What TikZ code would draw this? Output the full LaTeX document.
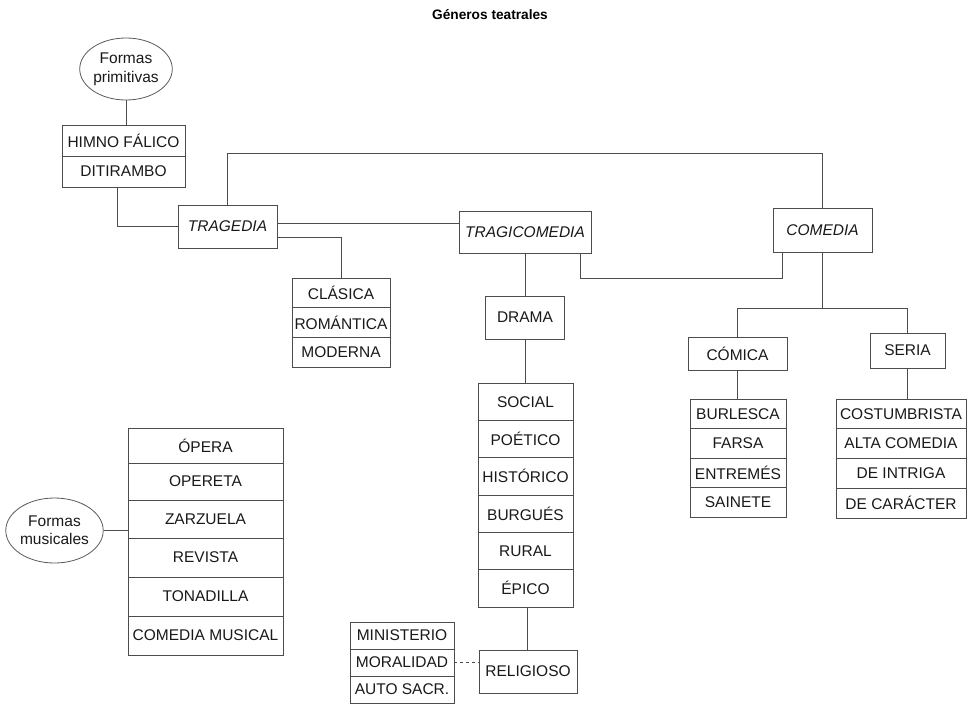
\documentclass[tikz,border=0pt]{standalone}
\usepackage{fontspec}
\setmainfont{Liberation Sans}
\usetikzlibrary{shapes.geometric}

\newcommand{\cellfont}{\fontsize{15.5}{19}\selectfont}

\tikzset{
  link/.style={draw=black!70, line width=0.8pt},
  cell/.style={draw=black!70, line width=0.8pt, rectangle, inner sep=0pt,
               font=\cellfont, text=black!90},
  genre/.style={cell, font=\cellfont\itshape},
  cloud/.style={draw=black!65, line width=0.8pt, ellipse, inner sep=0pt,
                align=center, font=\cellfont, text=black!90},
}

\begin{document}
\begin{tikzpicture}[x=1pt, y=-1pt]
\useasboundingbox (0,0) rectangle (979,712);

% title
\node[font=\fontsize{13.7}{16}\selectfont\bfseries] (title) at (490,15) {Géneros teatrales};

% origins
\node[cloud, minimum width=82pt, minimum height=62pt] (primitivas) at (126,69)
  {Formas\\primitivas};
\node[cell, minimum width=123pt, minimum height=31pt] (himno) at (123.5,140.5) {HIMNO FÁLICO};
\node[cell, minimum width=123pt, minimum height=31pt] (diti)  at (123.5,171.5) {DITIRAMBO};

% the three main genres
\node[genre, minimum width=99pt,  minimum height=43pt] (tragedia)     at (227.5,226.5) {TRAGEDIA};
\node[genre, minimum width=132pt, minimum height=42pt] (tragicomedia) at (525,232)     {TRAGICOMEDIA};
\node[genre, minimum width=99pt,  minimum height=44pt] (comedia)      at (822.5,230)   {COMEDIA};

% tragedy
\node[cell, minimum width=98pt, minimum height=29.7pt] (clasica)   at (341,292.8) {CLÁSICA};
\node[cell, minimum width=98pt, minimum height=29.7pt] (romantica) at (341,322.5) {ROMÁNTICA};
\node[cell, minimum width=98pt, minimum height=29.7pt] (moderna)   at (341,352.2) {MODERNA};

% drama
\node[cell, minimum width=79pt, minimum height=43pt] (drama) at (525,317.5) {DRAMA};
\node[cell, minimum width=95pt, minimum height=37.33pt] (social)    at (525.5,401.7) {SOCIAL};
\node[cell, minimum width=95pt, minimum height=37.33pt] (poetico)   at (525.5,439.0) {POÉTICO};
\node[cell, minimum width=95pt, minimum height=37.33pt] (historico) at (525.5,476.3) {HISTÓRICO};
\node[cell, minimum width=95pt, minimum height=37.33pt] (burgues)   at (525.5,513.7) {BURGUÉS};
\node[cell, minimum width=95pt, minimum height=37.33pt] (rural)     at (525.5,551.0) {RURAL};
\node[cell, minimum width=95pt, minimum height=37.33pt] (epico)     at (525.5,588.3) {ÉPICO};
\node[cell, minimum width=98pt, minimum height=43pt] (religioso) at (528,671.5) {RELIGIOSO};
\node[cell, minimum width=104pt, minimum height=27pt] (ministerio) at (402,635.5) {MINISTERIO};
\node[cell, minimum width=104pt, minimum height=27pt] (moralidad)  at (402,662.5) {MORALIDAD};
\node[cell, minimum width=104pt, minimum height=27pt] (auto)       at (402,689.5) {AUTO SACR.};

% comedy
\node[cell, minimum width=99pt, minimum height=33pt] (comica) at (737.5,353.5) {CÓMICA};
\node[cell, minimum width=75pt, minimum height=35pt] (seria)  at (907.5,350.5) {SERIA};
\node[cell, minimum width=96pt, minimum height=29.5pt] (burlesca) at (738,413.75) {BURLESCA};
\node[cell, minimum width=96pt, minimum height=29.5pt] (farsa)    at (738,443.25) {FARSA};
\node[cell, minimum width=96pt, minimum height=29.5pt] (entremes) at (738,472.75) {ENTREMÉS};
\node[cell, minimum width=96pt, minimum height=29.5pt] (sainete)  at (738,502.25) {SAINETE};
\node[cell, minimum width=130pt, minimum height=29.75pt] (costumbrista) at (901,413.9) {COSTUMBRISTA};
\node[cell, minimum width=130pt, minimum height=29.75pt] (alta)     at (901,443.6) {ALTA COMEDIA};
\node[cell, minimum width=130pt, minimum height=29.75pt] (intriga)  at (901,473.4) {DE INTRIGA};
\node[cell, minimum width=130pt, minimum height=29.75pt] (caracter) at (901,503.1) {DE CARÁCTER};

% musical forms
\node[cloud, minimum width=85pt, minimum height=65pt, font=\fontsize{15.5}{18}\selectfont] (musicales) at (54.5,530.5)
  {Formas\\musicales};
\node[cell, minimum width=155pt, minimum height=35pt] (opera)     at (205.5,445.5) {ÓPERA};
\node[cell, minimum width=155pt, minimum height=37pt] (opereta)   at (205.5,481.5) {OPERETA};
\node[cell, minimum width=155pt, minimum height=38pt] (zarzuela)  at (205.5,519)   {ZARZUELA};
\node[cell, minimum width=155pt, minimum height=39pt] (revista)   at (205.5,557.5) {REVISTA};
\node[cell, minimum width=155pt, minimum height=39pt] (tonadilla) at (205.5,596.5) {TONADILLA};
\node[cell, minimum width=155pt, minimum height=39pt] (cmusical)  at (205.5,635.5) {COMEDIA MUSICAL};

% connectors
\coordinate (topbar) at (0,153);
\coordinate (combar) at (0,308);

\draw[link] (primitivas.south) -- (primitivas.south |- himno.north);
\draw[link] ([xshift=-6.5pt]diti.south) |- (tragedia.west);
\draw[link] (tragedia.north) |- (comedia.north |- topbar) -- (comedia.north);
\draw[link] ([yshift=3.5pt]tragedia.east) -- ([yshift=3.5pt]tragedia.east -| tragicomedia.west);
\draw[link] ([yshift=-10.5pt]tragedia.east) -| (clasica.north);
\draw[link] (tragicomedia.south) -- (drama.north);
\draw[link] ([xshift=-11pt]tragicomedia.south east) -- ++(0,25) -| ([xshift=10pt]comedia.south west);
\draw[link] (comedia.south) -- (comedia.south |- combar);
\draw[link] (comica.north) |- (seria.north |- combar) -- (seria.north);
\draw[link] (comica.south) -- (comica.south |- burlesca.north);
\draw[link] (seria.south) -- (seria.south |- costumbrista.north);
\draw[link] (drama.south) -- (drama.south |- social.north);
\draw[link] ([xshift=1.5pt]epico.south) -- ([xshift=1.5pt]epico.south |- religioso.north);
\draw[link, dashed] (moralidad.east) -- (moralidad.east -| religioso.west);
\draw[link] (musicales.east) -- (musicales.east -| opera.west);
\end{tikzpicture}
\end{document}
